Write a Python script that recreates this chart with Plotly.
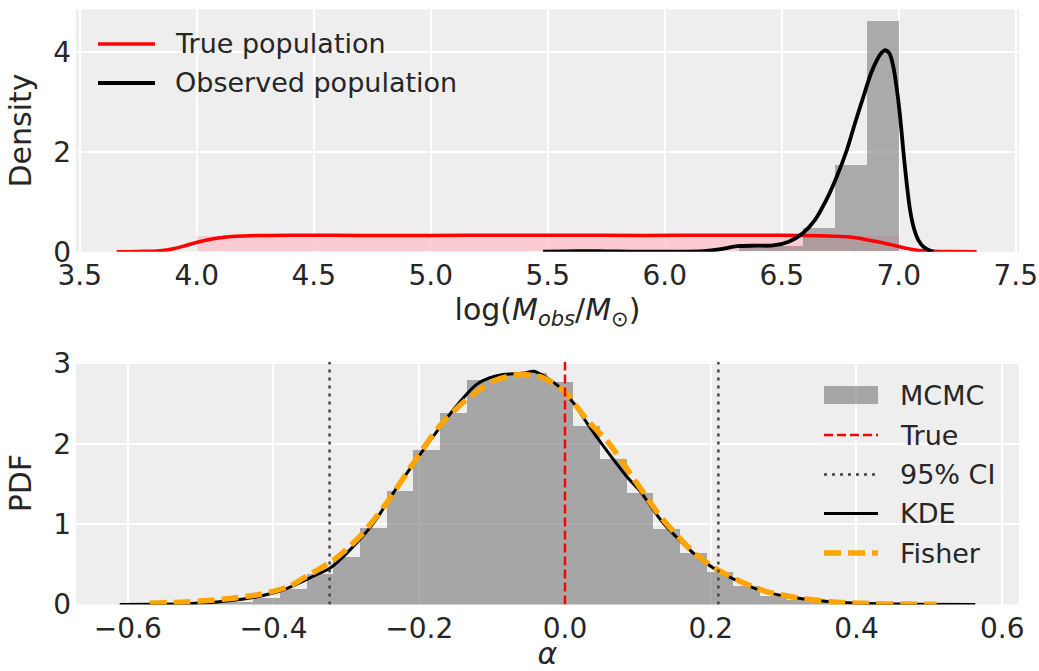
import plotly.graph_objects as go

# ---------------- Top panel data ----------------
true_bin_edges = [4.000, 4.136, 4.273, 4.409, 4.545, 4.682, 4.818, 4.955, 5.091, 5.227, 5.364,
                  5.500, 5.636, 5.773, 5.909, 6.045, 6.182, 6.318, 6.455, 6.591, 6.727, 6.864, 7.000]
true_hist = [0.31, 0.31, 0.31, 0.31, 0.31, 0.31, 0.31, 0.31, 0.31, 0.31, 0.31,
             0.31, 0.31, 0.31, 0.31, 0.31, 0.31, 0.31, 0.31, 0.31, 0.31, 0.31]

obs_bin_edges = [5.500, 5.636, 5.773, 5.909, 6.045, 6.182, 6.318, 6.455, 6.591, 6.727, 6.864, 7.000]
obs_hist = [0.0, 0.0, 0.0, 0.0, 0.0, 0.0, 0.10, 0.10, 0.47, 1.72, 4.60]

true_kde_x = [3.658, 3.75, 3.843, 3.90, 3.957, 4.02, 4.085, 4.15, 4.228, 4.4, 4.7, 5.0, 5.3,
              5.6, 5.9, 6.2, 6.5, 6.65, 6.72, 6.806, 6.863, 6.92, 6.977, 7.03, 7.077, 7.15, 7.22, 7.333]
true_kde_y = [0.0, 0.005, 0.02, 0.06, 0.13, 0.21, 0.27, 0.305, 0.32, 0.33, 0.325, 0.325, 0.33,
              0.33, 0.325, 0.33, 0.33, 0.32, 0.31, 0.285, 0.24, 0.19, 0.13, 0.07, 0.03, 0.01, 0.003, 0.0]

obs_kde_x = [5.48, 5.58, 5.667, 5.75, 5.85, 5.95, 6.05, 6.165, 6.24, 6.31, 6.39, 6.464, 6.53,
             6.59, 6.64, 6.69, 6.735, 6.778, 6.815, 6.849, 6.88, 6.906, 6.925, 6.94, 6.96,
             6.977, 6.992, 7.006, 7.02, 7.034, 7.048, 7.063, 7.085, 7.105, 7.125, 7.148]
obs_kde_y = [0.0, 0.008, 0.012, 0.008, 0.003, 0.0, 0.0, 0.01, 0.05, 0.11, 0.12, 0.125, 0.2,
             0.37, 0.62, 1.03, 1.5, 2.03, 2.6, 3.1, 3.55, 3.83, 3.97, 4.03, 3.97,
             3.7, 3.25, 2.7, 2.0, 1.37, 0.85, 0.5, 0.22, 0.1, 0.04, 0.0]

top_xticks = [3.5, 4.0, 4.5, 5.0, 5.5, 6.0, 6.5, 7.0, 7.5]
top_yticks = [0, 2, 4]

# ---------------- Bottom panel data ----------------
mcmc_bin_edges = [-0.6108, -0.5742, -0.5376, -0.5010, -0.4644, -0.4278, -0.3912, -0.3546,
                  -0.3180, -0.2814, -0.2448, -0.2082, -0.1716, -0.1350, -0.0984, -0.0618,
                  -0.0252, 0.0114, 0.0480, 0.0846, 0.1212, 0.1578, 0.1944, 0.2310,
                  0.2676, 0.3042, 0.3408, 0.3774, 0.4140, 0.4506, 0.4872, 0.5238, 0.5604]
mcmc_hist = [0.002, 0.004, 0.01, 0.02, 0.04, 0.09, 0.20, 0.38, 0.60, 0.96, 1.42, 1.93,
             2.38, 2.79, 2.86, 2.88, 2.77, 2.23, 1.81, 1.39, 0.94, 0.65, 0.41, 0.23,
             0.11, 0.06, 0.03, 0.015, 0.008, 0.004, 0.002, 0.001]

kde_x = [-0.611, -0.57, -0.52, -0.478, -0.432, -0.387, -0.341, -0.3226, -0.295, -0.263,
         -0.231, -0.204, -0.176, -0.149, -0.121, -0.103, -0.085, -0.071, -0.055, -0.043,
         -0.025, -0.007, 0.0, 0.0114, 0.030, 0.048, 0.085, 0.103, 0.135, 0.181, 0.208,
         0.240, 0.273, 0.318, 0.364, 0.42, 0.48, 0.563]
kde_y = [0.0, 0.003, 0.01, 0.03, 0.08, 0.18, 0.37, 0.45, 0.68, 1.01,
         1.45, 1.80, 2.15, 2.47, 2.74, 2.82, 2.86, 2.87, 2.88, 2.90,
         2.82, 2.70, 2.63, 2.51, 2.26, 2.03, 1.59, 1.41, 1.01, 0.60, 0.43,
         0.28, 0.16, 0.08, 0.035, 0.012, 0.004, 0.0]

fisher_x = [-0.57, -0.52, -0.47, -0.42, -0.38, -0.355, -0.318, -0.281, -0.245, -0.208,
            -0.172, -0.135, -0.098, -0.062, -0.03, 0.0, 0.03, 0.06, 0.10, 0.135, 0.18,
            0.208, 0.24, 0.273, 0.318, 0.364, 0.42, 0.47, 0.51]
fisher_y = [0.015, 0.03, 0.065, 0.125, 0.22, 0.35, 0.55, 0.85, 1.26, 1.76,
            2.22, 2.55, 2.78, 2.86, 2.82, 2.64, 2.30, 2.01, 1.49, 1.05, 0.62,
            0.44, 0.29, 0.17, 0.085, 0.035, 0.012, 0.005, 0.003]

alpha_true = 0.0
ci_low, ci_high = -0.323, 0.2105

bot_xticks = [-0.6, -0.4, -0.2, 0.0, 0.2, 0.4, 0.6]
bot_yticks = [0, 1, 2, 3]

top_legend_labels = ["True population", "Observed population"]
bot_legend_labels = ["MCMC", "True", "95% CI", "KDE", "Fisher"]


def centers_widths(edges):
    c = [(edges[i] + edges[i + 1]) / 2 for i in range(len(edges) - 1)]
    w = [edges[i + 1] - edges[i] for i in range(len(edges) - 1)]
    return c, w


FONT = "DejaVu Sans"
TXT = "#262626"
W, H = 1039, 671

# styles
RED_LINE = dict(color="red", width=3.5)
BLACK_LINE = dict(color="black", width=3.8)
HIST_GREY = "rgba(128,128,128,0.65)"
TRUE_LINE = dict(color="red", width=2.5, dash="9px,4px")
CI_LINE = dict(color="#444444", width=2.5, dash="3px,5px")
KDE_LINE = dict(color="black", width=3)
FISHER_LINE = dict(color="orange", width=5.5, dash="17px,7px")

fig = go.Figure()

# ---- top panel ----
c, w = centers_widths(true_bin_edges)
fig.add_trace(go.Bar(x=c, y=true_hist, width=w, marker=dict(color="rgba(255,192,203,0.8)", line_width=0),
                     showlegend=False, xaxis="x", yaxis="y"))
c, w = centers_widths(obs_bin_edges)
fig.add_trace(go.Bar(x=c, y=obs_hist, width=w, marker=dict(color="rgba(128,128,128,0.62)", line_width=0),
                     showlegend=False, xaxis="x", yaxis="y"))
fig.add_trace(go.Scatter(x=true_kde_x, y=true_kde_y, mode="lines", line=dict(**RED_LINE, shape="spline"),
                         name=top_legend_labels[0], showlegend=False, xaxis="x", yaxis="y"))
fig.add_trace(go.Scatter(x=obs_kde_x, y=obs_kde_y, mode="lines", line=dict(**BLACK_LINE, shape="spline", smoothing=0.8),
                         name=top_legend_labels[1], showlegend=False, xaxis="x", yaxis="y"))

# ---- bottom panel ----
c, w = centers_widths(mcmc_bin_edges)
fig.add_trace(go.Bar(x=c, y=mcmc_hist, width=w, marker=dict(color=HIST_GREY, line_width=0),
                     name="MCMC", showlegend=False, xaxis="x2", yaxis="y2"))
fig.add_trace(go.Scatter(x=[alpha_true, alpha_true], y=[0, 1], mode="lines", line=TRUE_LINE,
                         name="True", showlegend=False, xaxis="x2", yaxis="y3"))
fig.add_trace(go.Scatter(x=[ci_low, ci_low], y=[0, 1], mode="lines", line=CI_LINE,
                         name="95% CI", showlegend=False, xaxis="x2", yaxis="y3"))
fig.add_trace(go.Scatter(x=[ci_high, ci_high], y=[0, 1], mode="lines", line=CI_LINE,
                         showlegend=False, xaxis="x2", yaxis="y3"))
fig.add_trace(go.Scatter(x=kde_x, y=kde_y, mode="lines", line=dict(**KDE_LINE, shape="spline", smoothing=0.8),
                         name="KDE", showlegend=False, xaxis="x2", yaxis="y2"))
fig.add_trace(go.Scatter(x=fisher_x, y=fisher_y, mode="lines",
                         line=dict(**FISHER_LINE, shape="spline", smoothing=0.8),
                         name="Fisher", showlegend=False, xaxis="x2", yaxis="y2"))

# ---- hand-drawn legends (matplotlib-like long keys) ----
shapes = []
annotations = []
LEG_SIZE = 27


def px(xp):
    return xp / W


def py(yp):
    return 1 - yp / H


top_leg_rows = [44, 83]
top_leg_styles = [RED_LINE, BLACK_LINE]
for lab, yr, st in zip(top_legend_labels, top_leg_rows, top_leg_styles):
    shapes.append(dict(type="line", xref="paper", yref="paper", x0=px(98), x1=px(155), y0=py(yr), y1=py(yr),
                       line=st, layer="above"))
    annotations.append(dict(text=lab, xref="paper", yref="paper", x=px(173), y=py(yr), xanchor="left",
                            yanchor="middle", showarrow=False, font=dict(family=FONT, size=LEG_SIZE, color=TXT)))

bot_leg_rows = [395, 435, 474.5, 513.5, 553]
bot_leg_styles = [None, TRUE_LINE, CI_LINE, KDE_LINE, FISHER_LINE]
for lab, yr, st in zip(bot_legend_labels, bot_leg_rows, bot_leg_styles):
    if st is None:
        shapes.append(dict(type="rect", xref="paper", yref="paper", x0=px(824), x1=px(878),
                           y0=py(yr + 9), y1=py(yr - 9), fillcolor=HIST_GREY, line_width=0, layer="above"))
    else:
        shapes.append(dict(type="line", xref="paper", yref="paper", x0=px(824), x1=px(878), y0=py(yr), y1=py(yr),
                           line=st, layer="above"))
    annotations.append(dict(text=lab, xref="paper", yref="paper", x=px(898), y=py(yr), xanchor="left",
                            yanchor="middle", showarrow=False, font=dict(family=FONT, size=LEG_SIZE, color=TXT)))

xdom = [76 / W, 1019 / W]
top_dom = [1 - 251.7 / H, 1 - 9.3 / H]
bot_dom = [1 - 604.5 / H, 1 - 361.7 / H]

axis_common = dict(showgrid=True, gridcolor="white", gridwidth=1.6, zeroline=False, showline=False,
                   ticks="", ticklen=0, tickfont=dict(family=FONT, size=28, color=TXT), automargin=False)
TITLE_FONT = dict(family=FONT, size=30, color=TXT)

fig.update_layout(
    width=W, height=H,
    margin=dict(l=0, r=0, t=0, b=0),
    paper_bgcolor="white", plot_bgcolor="#eeeeee",
    barmode="overlay", bargap=0,
    font=dict(family=FONT, color=TXT),
    showlegend=False,
    shapes=shapes, annotations=annotations,
    xaxis=dict(domain=xdom, range=[3.484, 7.514], tickvals=top_xticks, tickformat=".1f", anchor="y",
               ticklabelstandoff=4,
               title=dict(text="log(<i>M</i><sub><i>obs</i></sub>/<i>M</i><sub>⊙</sub>)", standoff=6,
                          font=TITLE_FONT), **axis_common),
    yaxis=dict(domain=top_dom, range=[0, 4.85], tickvals=top_yticks, anchor="x", ticklabelstandoff=4,
               title=dict(text="Density", standoff=12, font=TITLE_FONT), **axis_common),
    xaxis2=dict(domain=xdom, range=[-0.671, 0.623], tickvals=bot_xticks, tickformat=".1f", anchor="y2",
                ticklabelstandoff=4,
                title=dict(text="<i>α</i>", standoff=11, font=TITLE_FONT), **axis_common),
    yaxis2=dict(domain=bot_dom, range=[0, 3.02], tickvals=bot_yticks, anchor="x2", ticklabelstandoff=4,
                title=dict(text="PDF", standoff=12, font=TITLE_FONT), **axis_common),
    yaxis3=dict(domain=bot_dom, range=[0, 1], overlaying="y2", anchor="x2", visible=False, fixedrange=True),
)

fig.write_html("out.html", config={"displayModeBar": False},
               post_script="document.body.style.margin='0';document.body.style.overflow='hidden';")
